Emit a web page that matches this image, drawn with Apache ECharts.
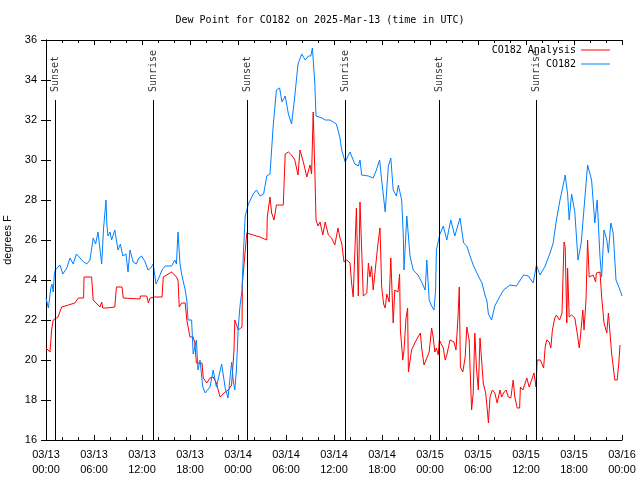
<!DOCTYPE html>
<html><head><meta charset="utf-8">
<script src="https://cdn.jsdelivr.net/npm/echarts@6/dist/echarts.min.js"></script>
<style>html,body{margin:0;padding:0;background:#fff}#c{width:640px;height:480px}</style>
</head><body><div id="c"></div>
<script>
// hours since 03/13 00:00 UTC
const analysisHours = [0,0.5,0.7,0.9,1.5,1.96,2.8,3.6,4.04,4.7,4.75,5.7,5.9,6.75,6.96,7.1,7.6,8.6,8.8,9.5,9.66,9.9,11.75,11.8,12.6,12.8,13.0,13.6,14.5,14.66,15.7,15.9,16.3,16.5,16.66,16.96,17.4,17.6,18.0,18.4,18.6,18.8,19.5,19.66,20.1,20.5,20.9,21.3,21.75,22.4,22.8,23.2,23.5,23.6,24.04,24.5,24.55,25.1,25.9,26.75,27.6,27.66,28.0,28.2,28.5,28.8,29.66,29.9,30.3,30.7,31.1,31.5,31.75,32.2,32.6,33.0,33.2,33.4,33.6,33.75,34.0,34.25,34.6,34.9,35.3,35.7,36.1,36.5,36.75,36.96,37.25,37.6,38.0,38.2,38.4,38.6,38.8,39.04,39.25,39.46,39.66,40.1,40.3,40.5,40.7,40.9,41.5,41.75,41.96,42.2,42.4,42.6,42.9,43.1,43.4,43.6,44.0,44.2,44.3,44.6,44.75,45.0,45.2,45.3,45.7,46.1,46.5,46.8,46.96,47.25,47.6,47.9,48.2,48.4,48.6,48.8,49.04,49.16,49.66,49.9,50.1,50.5,51.0,51.25,51.5,51.66,51.8,52.1,52.4,52.6,52.9,53.0,53.2,53.4,53.6,53.8,54.04,54.25,54.5,54.66,54.96,55.2,55.3,55.5,55.8,56.1,56.4,56.75,56.96,57.2,57.5,57.8,58.1,58.4,58.6,58.9,59.2,59.3,59.6,59.9,60.1,60.4,60.7,61.0,61.25,61.4,61.8,62.2,62.4,62.6,62.9,63.1,63.3,63.6,63.8,64.2,64.5,64.75,64.9,65.1,65.2,65.4,65.7,66.1,66.4,66.66,66.8,67.1,67.25,67.5,67.7,67.9,68.4,68.7,68.8,69.25,69.46,69.75,70.1,70.3,70.5,70.7,71.1,71.4,71.6,71.75];
const analysisValues = [20.6,20.4,21.5,22.0,22.15,22.65,22.75,22.85,23.1,23.1,24.15,24.15,23.0,22.65,22.9,22.6,22.6,22.65,23.65,23.65,23.1,23.05,23.05,23.2,23.2,22.85,23.1,23.15,23.15,24.15,24.4,24.3,24.15,24.0,22.65,22.85,22.85,22.0,21.15,21.15,20.85,19.85,19.85,19.1,18.85,19.1,19.15,18.85,18.15,18.4,18.5,18.75,20.5,22.0,21.5,21.65,23.85,26.35,26.25,26.15,26.0,27.15,28.15,27.35,27.0,27.75,27.75,30.3,30.4,30.25,30.0,29.25,30.5,29.85,29.15,29.75,29.3,32.4,29.5,27.0,26.7,26.9,26.25,26.9,26.25,26.1,25.75,26.6,26.1,25.85,24.9,25.0,24.85,23.85,23.15,25.35,27.6,23.2,27.9,25.5,23.2,23.35,24.85,24.15,24.7,23.5,25.85,26.6,23.65,22.8,22.6,23.3,22.9,25.1,21.85,23.5,23.4,24.3,21.5,20.0,20.5,22.1,22.6,19.4,20.5,20.85,21.15,21.35,20.6,19.75,20.1,20.4,21.6,21.15,20.4,20.6,20.25,21.0,20.6,20.0,20.25,21.0,20.9,20.5,22.15,23.65,19.65,19.4,20.15,21.65,21.0,19.65,17.5,18.35,21.35,19.65,18.5,21.1,21.15,18.85,18.35,17.35,16.85,18.15,18.5,18.35,17.85,18.5,18.15,18.35,18.5,18.15,18.1,19.0,18.15,17.6,17.6,18.65,18.5,18.85,19.1,18.65,19.0,19.35,18.65,20.0,20.0,19.6,20.65,21.0,20.9,20.6,21.5,22.1,22.25,22.0,22.35,25.9,25.65,21.85,24.6,22.15,22.25,22.1,21.35,20.6,21.15,22.5,21.5,23.0,26.0,24.15,24.25,23.9,24.35,24.4,23.15,21.85,21.35,22.35,21.35,20.35,19.0,19.0,19.85,20.75];
const stationHours = [0,0.3,0.6,0.75,0.9,1.05,1.16,1.75,2.1,2.6,3.0,3.4,3.8,4.25,4.7,5.1,5.5,5.9,6.2,6.5,6.75,6.96,7.2,7.5,7.6,7.75,8.0,8.2,8.6,9.0,9.3,9.6,10.0,10.25,10.5,10.9,11.3,11.6,11.96,12.4,12.75,13.1,13.4,13.75,14.1,14.5,14.9,15.7,16.1,16.3,16.5,16.75,17.0,17.2,17.4,17.6,17.75,18.2,18.4,18.8,19.0,19.25,19.6,19.9,20.2,20.5,20.9,21.3,21.96,22.4,22.75,23.2,23.4,23.6,23.8,24.04,24.25,24.5,24.66,24.9,25.3,25.9,26.3,26.75,27.2,27.6,28.0,28.2,28.4,28.8,29.2,29.5,29.9,30.3,30.7,31.1,31.5,31.96,32.4,32.8,33.1,33.3,33.5,33.6,33.75,34.5,34.9,35.5,35.9,36.3,36.75,36.96,37.4,38.0,38.6,39.04,39.25,39.46,40.3,40.9,41.3,41.7,41.96,42.4,42.8,43.1,43.4,43.8,44.04,44.46,44.66,44.75,45.1,45.5,45.9,46.5,46.96,47.4,47.6,47.9,48.2,48.5,48.7,48.8,49.2,49.66,50.1,50.6,51.1,51.75,52.2,52.6,53.0,53.4,54.04,54.5,54.9,55.1,55.3,55.7,56.1,56.75,57.2,58.0,58.8,59.7,60.3,60.9,61.3,61.75,62.4,63.0,63.4,63.8,64.25,64.7,64.9,65.2,65.4,65.7,66.1,66.5,66.9,67.4,67.7,68.2,68.6,68.9,69.25,69.45,69.75,70.1,70.3,70.6,70.9,71.25,71.75,72.0];
const stationValues = [23.1,22.6,23.6,23.8,23.4,24.3,24.5,24.75,24.3,24.6,25.1,24.8,25.3,25.1,24.9,24.8,25.0,26.1,25.8,26.4,26.3,24.8,26.6,28.0,26.8,26.2,26.4,26.0,26.5,25.5,25.8,25.2,25.3,24.4,25.5,24.9,24.8,25.1,25.2,24.9,24.5,24.6,24.8,23.8,24.1,24.5,24.7,24.7,25.0,24.8,26.4,24.8,24.2,24.2,23.5,23.0,22.0,22.0,20.3,21.0,19.5,20.0,18.65,18.35,18.5,18.65,19.5,18.65,19.8,18.6,18.1,19.9,19.0,18.5,19.5,21.7,22.7,23.5,25.2,27.2,27.8,28.3,28.5,28.2,28.3,29.2,29.3,30.5,31.7,33.5,33.6,32.9,33.2,32.3,31.8,33.2,34.8,35.3,35.0,35.2,35.2,35.6,35.5,33.85,32.2,32.1,32.0,32.0,31.9,31.8,31.1,30.5,29.9,30.4,29.8,29.7,30.0,29.25,29.2,29.1,29.5,30.0,29.0,27.4,29.7,30.1,28.5,28.2,28.75,28.0,26.25,24.5,27.2,25.2,24.5,24.25,23.9,23.5,25.0,23.0,22.7,22.5,23.5,25.5,26.25,26.7,26.0,27.0,26.2,27.1,25.85,25.7,25.2,24.75,24.2,23.85,23.2,23.0,22.3,22.0,22.7,23.2,23.5,23.75,23.7,24.25,24.2,23.85,24.75,24.25,24.7,25.35,25.85,27.0,28.0,28.85,29.25,28.3,27.0,28.3,27.4,25.0,25.85,28.3,29.75,29.0,26.85,28.0,25.15,24.15,26.5,26.0,25.35,26.85,26.35,24.0,23.5,23.2];
const sunHours = [1.16,13.4,25.2,37.4,49.2,61.3];
const sunNames = ['Sunset','Sunrise','Sunset','Sunrise','Sunset','Sunrise'];
const sunLineTop = 33;
const xTickDays = ['03/13','03/13','03/13','03/13','03/14','03/14','03/14','03/14','03/15','03/15','03/15','03/15','03/16'];
const xTickTimes = ['00:00','06:00','12:00','18:00','00:00','06:00','12:00','18:00','00:00','06:00','12:00','18:00','00:00'];

const mono = 'DejaVu Sans Mono';
const sans = 'Liberation Sans';
const chart = echarts.init(document.getElementById('c'), null, {renderer:'canvas'});
const zip = (a,b)=>a.map((v,i)=>[v,b[i]]);
const axisCommon = {
  axisLine:{show:true,lineStyle:{color:'#000',width:1}},
  splitLine:{show:false}
};
chart.setOption({
  animation:false,
  backgroundColor:'#fff',
  title:{text:'Dew Point for CO182 on 2025-Mar-13 (time in UTC)',left:'center',top:15,padding:[0,0,0,27],
    textStyle:{fontFamily:mono,fontSize:10,fontWeight:'normal',color:'#000'}},
  legend:[
    {data:[{name:'CO182 Analysis'}],right:30,top:44,align:'right',icon:'rect',itemWidth:29,itemHeight:1,padding:0,
      selectedMode:false,textStyle:{fontFamily:mono,fontSize:10,color:'#000',lineHeight:12}},
    {data:[{name:'CO182'}],right:30,top:58,align:'right',icon:'rect',itemWidth:29,itemHeight:1,padding:0,
      selectedMode:false,textStyle:{fontFamily:mono,fontSize:10,color:'#000',lineHeight:12}}
  ],
  grid:{left:46,right:18,top:40,bottom:40,containLabel:false,outerBoundsMode:'none'},
  xAxis:[
    Object.assign({type:'value',min:0,max:72,interval:6,position:'bottom',
      axisTick:{show:true,inside:true,length:5,lineStyle:{color:'#000'}},
      minorTick:{show:true,splitNumber:3,length:3,lineStyle:{color:'#000'}},
      minorSplitLine:{show:false},
      axisLabel:{show:true,margin:7,fontFamily:sans,fontSize:11,color:'#000',lineHeight:15,
        formatter:v=>xTickDays[Math.round(v/6)]+'\n'+xTickTimes[Math.round(v/6)]}},axisCommon),
    Object.assign({type:'value',min:0,max:72,interval:6,position:'top',
      axisTick:{show:true,inside:true,length:5,lineStyle:{color:'#000'}},
      minorTick:{show:true,splitNumber:3,length:3,lineStyle:{color:'#000'}},
      axisLabel:{show:false}},axisCommon)
  ],
  yAxis:[
    Object.assign({type:'value',min:16,max:36,interval:2,position:'left',
      name:'degrees F',nameLocation:'middle',nameRotate:90,nameGap:29,
      nameTextStyle:{fontFamily:sans,fontSize:11,color:'#000'},
      axisTick:{show:true,inside:true,length:5,lineStyle:{color:'#000'}},
      axisLabel:{show:true,margin:9,fontFamily:sans,fontSize:11,color:'#000'}},axisCommon),
    Object.assign({type:'value',min:16,max:36,interval:2,position:'right',
      axisTick:{show:true,inside:true,length:5,lineStyle:{color:'#000'}},
      axisLabel:{show:false}},axisCommon)
  ],
  series:[
    {name:'CO182 Analysis',type:'line',data:zip(analysisHours,analysisValues),showSymbol:false,symbol:'none',
      lineStyle:{color:'#ff0000',width:1},itemStyle:{color:'#ff0000'},silent:true,z:3},
    {name:'CO182',type:'line',data:zip(stationHours,stationValues),showSymbol:false,symbol:'none',
      lineStyle:{color:'#0080ff',width:1},itemStyle:{color:'#0080ff'},silent:true,z:4},
    {name:'sun',type:'scatter',symbolSize:0,silent:true,z:5,
      data:sunHours.map((h,i)=>({value:[h,sunLineTop],name:sunNames[i]})),
      label:{show:true,formatter:'{b}',position:'top',distance:8,rotate:90,align:'left',verticalAlign:'middle',
        fontFamily:mono,fontSize:10,color:'#000'},
      markLine:{symbol:'none',silent:true,animation:false,label:{show:false},
        lineStyle:{color:'#000',width:1,type:'solid'},
        data:sunHours.map(h=>[{coord:[h,16]},{coord:[h,sunLineTop]}])}}
  ]
});
</script></body></html>
